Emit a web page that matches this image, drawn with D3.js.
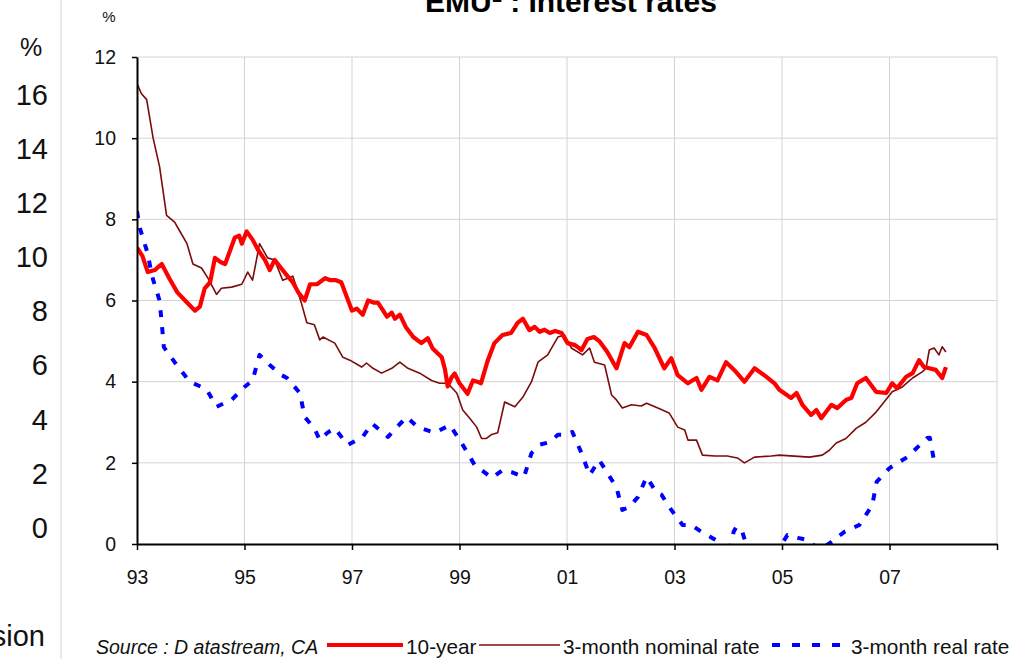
<!DOCTYPE html>
<html>
<head>
  <meta charset="utf-8">
  <style>
    body { margin: 0; background: #ffffff; }
    svg { display: block; font-family: "Liberation Sans", Arial, sans-serif; }
  </style>
</head>
<body>

  <div id="chart_rates"></div>

  <script src="https://d3js.org/d3.v7.min.js"></script>

  <script>
    // [decimal year, %]
    var tenYear = [
      [1993.0, 7.3], [1993.1, 7.1], [1993.2, 6.7], [1993.33, 6.75], [1993.46, 6.9], [1993.6, 6.55],
      [1993.75, 6.2], [1993.93, 5.95], [1994.08, 5.75], [1994.17, 5.85], [1994.26, 6.3], [1994.36, 6.45],
      [1994.45, 7.05], [1994.55, 6.95], [1994.64, 6.9], [1994.82, 7.55], [1994.9, 7.6], [1994.95, 7.4],
      [1995.04, 7.7], [1995.15, 7.5], [1995.25, 7.25], [1995.38, 7.0], [1995.47, 6.75], [1995.56, 7.0],
      [1995.68, 6.8], [1995.8, 6.6], [1995.9, 6.45], [1996.0, 6.2], [1996.12, 6.0], [1996.22, 6.4],
      [1996.35, 6.4], [1996.5, 6.55], [1996.6, 6.5], [1996.7, 6.5], [1996.8, 6.45], [1996.9, 6.1],
      [1997.0, 5.75], [1997.09, 5.8], [1997.2, 5.65], [1997.3, 6.0], [1997.4, 5.95], [1997.48, 5.95],
      [1997.58, 5.75], [1997.65, 5.6], [1997.74, 5.7], [1997.8, 5.55], [1997.89, 5.65], [1998.0, 5.35],
      [1998.14, 5.1], [1998.29, 4.95], [1998.41, 5.07], [1998.5, 4.82], [1998.67, 4.6], [1998.73, 4.3],
      [1998.78, 3.88], [1998.85, 4.1], [1998.91, 4.2], [1999.0, 3.96], [1999.15, 3.7], [1999.25, 4.03],
      [1999.33, 4.0], [1999.4, 3.96], [1999.52, 4.5], [1999.65, 4.95], [1999.8, 5.15], [1999.96, 5.2],
      [2000.08, 5.45], [2000.18, 5.55], [2000.3, 5.27], [2000.4, 5.35], [2000.49, 5.23], [2000.58, 5.28],
      [2000.68, 5.2], [2000.78, 5.25], [2000.9, 5.2], [2001.01, 4.95], [2001.15, 4.9], [2001.27, 4.78],
      [2001.38, 5.05], [2001.5, 5.1], [2001.6, 5.0], [2001.75, 4.73], [2001.92, 4.33], [2002.07, 4.95],
      [2002.16, 4.85], [2002.32, 5.23], [2002.48, 5.15], [2002.63, 4.83], [2002.81, 4.33], [2002.94, 4.58],
      [2003.06, 4.16], [2003.25, 3.96], [2003.41, 4.09], [2003.5, 3.8], [2003.65, 4.12], [2003.8, 4.03],
      [2003.96, 4.48], [2004.11, 4.29], [2004.3, 4.0], [2004.49, 4.33], [2004.67, 4.16], [2004.86, 3.96],
      [2004.95, 3.8], [2005.17, 3.6], [2005.27, 3.72], [2005.38, 3.43], [2005.54, 3.18], [2005.64, 3.3],
      [2005.73, 3.1], [2005.92, 3.43], [2006.03, 3.35], [2006.19, 3.55], [2006.29, 3.6], [2006.4, 3.96],
      [2006.56, 4.09], [2006.75, 3.75], [2006.94, 3.72], [2007.05, 3.96], [2007.14, 3.84], [2007.31, 4.12],
      [2007.43, 4.21], [2007.55, 4.53], [2007.64, 4.36], [2007.74, 4.33], [2007.86, 4.29], [2007.98, 4.09],
      [2008.05, 4.36]
    ];

    var nominal3m = [
      [1993.0, 11.35], [1993.08, 11.1], [1993.18, 10.95], [1993.3, 10.0], [1993.42, 9.3], [1993.55, 8.1],
      [1993.7, 7.93], [1993.8, 7.7], [1993.93, 7.4], [1994.04, 6.9], [1994.2, 6.8], [1994.32, 6.55],
      [1994.48, 6.15], [1994.57, 6.3], [1994.76, 6.33], [1994.95, 6.4], [1995.06, 6.7], [1995.15, 6.5],
      [1995.28, 7.4], [1995.43, 7.05], [1995.56, 7.0], [1995.71, 6.5], [1995.9, 6.6], [1996.06, 5.93],
      [1996.16, 5.45], [1996.3, 5.4], [1996.4, 5.03], [1996.46, 5.1], [1996.68, 4.95], [1996.83, 4.6],
      [1996.96, 4.53], [1997.18, 4.36], [1997.27, 4.46], [1997.39, 4.33], [1997.55, 4.21], [1997.74, 4.33],
      [1997.89, 4.48], [1998.04, 4.33], [1998.26, 4.21], [1998.48, 4.03], [1998.63, 3.96], [1998.78, 3.96],
      [1998.95, 3.72], [1999.06, 3.3], [1999.19, 3.1], [1999.32, 2.88], [1999.41, 2.6], [1999.5, 2.6],
      [1999.6, 2.7], [1999.71, 2.74], [1999.84, 3.5], [2000.03, 3.38], [2000.18, 3.62], [2000.34, 4.0],
      [2000.46, 4.48], [2000.64, 4.66], [2000.83, 5.1], [2000.95, 5.15], [2001.08, 4.83], [2001.29, 4.66],
      [2001.42, 4.83], [2001.51, 4.48], [2001.7, 4.41], [2001.83, 3.67], [2001.92, 3.55], [2002.03, 3.35],
      [2002.2, 3.43], [2002.38, 3.4], [2002.48, 3.47], [2002.69, 3.35], [2002.9, 3.23], [2003.06, 2.88],
      [2003.19, 2.81], [2003.25, 2.56], [2003.41, 2.56], [2003.52, 2.19], [2003.75, 2.17], [2003.98, 2.17],
      [2004.17, 2.12], [2004.3, 2.0], [2004.49, 2.14], [2004.8, 2.17], [2004.95, 2.19], [2005.51, 2.14],
      [2005.75, 2.19], [2005.88, 2.31], [2006.01, 2.49], [2006.19, 2.6], [2006.38, 2.85], [2006.56, 3.0],
      [2006.75, 3.25], [2006.9, 3.5], [2007.05, 3.75], [2007.24, 3.87], [2007.43, 4.09], [2007.61, 4.24],
      [2007.68, 4.33], [2007.74, 4.78], [2007.83, 4.83], [2007.92, 4.66], [2007.98, 4.86], [2008.05, 4.73]
    ];

    var real3m = [
      [1993.0, 8.2], [1993.05, 7.8], [1993.2, 7.15], [1993.28, 6.6], [1993.42, 6.0], [1993.46, 5.45],
      [1993.5, 4.85], [1993.7, 4.48], [1993.98, 4.0], [1994.15, 3.9], [1994.3, 3.8], [1994.48, 3.38],
      [1994.67, 3.5], [1994.76, 3.55], [1995.0, 3.87], [1995.15, 4.03], [1995.28, 4.66], [1995.47, 4.41],
      [1995.69, 4.16], [1995.79, 4.09], [1996.03, 3.72], [1996.12, 3.13], [1996.3, 2.85], [1996.4, 2.56],
      [1996.55, 2.75], [1996.68, 2.85], [1996.92, 2.44], [1997.2, 2.64], [1997.37, 2.97], [1997.67, 2.64],
      [1997.85, 2.9], [1998.02, 3.13], [1998.22, 2.88], [1998.54, 2.74], [1998.82, 2.93], [1999.04, 2.49],
      [1999.28, 1.95], [1999.6, 1.63], [1999.8, 1.82], [1999.97, 1.77], [2000.2, 1.65], [2000.34, 2.24],
      [2000.5, 2.45], [2000.68, 2.51], [2000.83, 2.69], [2000.95, 2.69], [2001.1, 2.76], [2001.27, 2.24],
      [2001.42, 1.7], [2001.6, 2.07], [2001.75, 1.75], [2001.92, 1.4], [2002.03, 0.84], [2002.16, 0.91],
      [2002.32, 1.16], [2002.48, 1.65], [2002.67, 1.26], [2002.76, 1.21], [2002.94, 0.84], [2003.15, 0.47],
      [2003.31, 0.47], [2003.5, 0.3], [2003.7, 0.15], [2003.87, 0.02], [2004.0, -0.3], [2004.1, 0.3],
      [2004.15, 0.42], [2004.25, 0.35], [2004.4, -0.3], [2004.7, -0.4], [2004.95, -0.1], [2005.1, 0.22],
      [2005.3, 0.15], [2005.47, 0.1], [2005.7, -0.15], [2005.92, 0.05], [2006.16, 0.3], [2006.44, 0.47],
      [2006.68, 0.96], [2006.76, 1.53], [2007.0, 1.87], [2007.33, 2.14], [2007.7, 2.61], [2007.75, 2.62],
      [2007.83, 2.04]
    ];

    var yearTicks = [1993, 1995, 1997, 1999, 2001, 2003, 2005, 2007, 2009];
    var yearLabels = ['93', '95', '97', '99', '01', '03', '05', '07', ''];
    var rateTicks = [0, 2, 4, 6, 8, 10, 12];
    // tick labels of the neighbouring (cut off) chart on the left
    var leftTicks = [0, 2, 4, 6, 8, 10, 12, 14, 16];

    var width = 1013,
        height = 659,
        plot = {'left': 137, 'right': 997, 'top': 57, 'bottom': 544};

    var svg = d3.select('#chart_rates')
        .append('svg')
        .attr('width', width)
        .attr('height', height);

    svg.append('rect')
        .attr('width', width)
        .attr('height', height)
        .attr('fill', '#ffffff');

    // --- remnant of the neighbouring chart ---
    svg.append('line')
        .attr('x1', 61).attr('x2', 61)
        .attr('y1', 0).attr('y2', height)
        .attr('stroke', '#d4d4d4')
        .attr('stroke-width', 1);

    var yLeft = d3.scaleLinear()
        .domain([0, 16])
        .range([528, 95]);

    var leftAxis = svg.append('g')
        .attr('transform', 'translate(48, 0)')
        .call(d3.axisLeft(yLeft).tickValues(leftTicks).tickSize(0).tickPadding(0));
    leftAxis.select('.domain').remove();
    leftAxis.selectAll('text')
        .attr('font-family', '"Liberation Sans", Arial, sans-serif')
        .attr('font-size', 29)
        .attr('fill', '#111');

    svg.append('text')
        .attr('x', 31).attr('y', 56)
        .attr('text-anchor', 'middle')
        .attr('font-size', 25)
        .attr('fill', '#111')
        .text('%');

    svg.append('text')
        .attr('x', 45).attr('y', 646)
        .attr('text-anchor', 'end')
        .attr('font-size', 29)
        .attr('fill', '#111')
        .text('Commission');

    // --- main chart ---
    var x = d3.scaleLinear()
        .domain([1993, 2009])
        .range([plot.left, plot.right]);

    var y = d3.scaleLinear()
        .domain([0, 12])
        .range([plot.bottom, plot.top]);

    var grid = svg.append('g')
        .attr('stroke', '#d3d3d3')
        .attr('stroke-width', 1);

    grid.selectAll('line.h')
        .data(rateTicks.slice(1))
        .enter().append('line')
        .attr('class', 'h')
        .attr('x1', plot.left).attr('x2', plot.right)
        .attr('y1', d => y(d)).attr('y2', d => y(d));

    grid.selectAll('line.v')
        .data(yearTicks.slice(1))
        .enter().append('line')
        .attr('class', 'v')
        .attr('x1', d => x(d)).attr('x2', d => x(d))
        .attr('y1', plot.top).attr('y2', plot.bottom);

    svg.append('clipPath')
        .attr('id', 'plot_clip')
        .append('rect')
        .attr('x', plot.left)
        .attr('y', plot.top)
        .attr('width', plot.right - plot.left)
        .attr('height', plot.bottom - plot.top);

    var line = d3.line()
        .x(d => x(d[0]))
        .y(d => y(d[1]));

    var lines = svg.append('g')
        .attr('clip-path', 'url(#plot_clip)')
        .attr('fill', 'none')
        .attr('stroke-linejoin', 'round');

    lines.append('path')
        .datum(nominal3m)
        .attr('d', line)
        .attr('stroke', '#7a0c0c')
        .attr('stroke-width', 1.6);

    lines.append('path')
        .datum(tenYear)
        .attr('d', line)
        .attr('stroke', '#ff0000')
        .attr('stroke-width', 4.2);

    lines.append('path')
        .datum(real3m)
        .attr('d', line)
        .attr('stroke', '#0000ff')
        .attr('stroke-width', 4)
        .attr('stroke-dasharray', '7,10');

    // axes
    var xAxis = svg.append('g')
        .attr('transform', 'translate(0,' + plot.bottom + ')')
        .call(d3.axisBottom(x)
          .tickValues(yearTicks)
          .tickFormat((d, i) => yearLabels[i])
          .tickSize(6)
          .tickSizeOuter(0)
          .tickPadding(20));

    var yAxis = svg.append('g')
        .attr('transform', 'translate(' + plot.left + ',0)')
        .call(d3.axisLeft(y)
          .tickValues(rateTicks)
          .tickSize(5)
          .tickSizeOuter(0)
          .tickPadding(16));

    [xAxis, yAxis].forEach(function (ax) {
      ax.select('.domain').attr('stroke', '#000').attr('stroke-width', 2);
      ax.selectAll('.tick line').attr('stroke', '#000').attr('stroke-width', 1.5);
      ax.selectAll('text')
          .attr('font-family', '"Liberation Sans", Arial, sans-serif')
          .attr('font-size', 19.5)
          .attr('fill', '#111');
    });

    svg.append('text')
        .attr('x', 109).attr('y', 22)
        .attr('text-anchor', 'middle')
        .attr('font-size', 15)
        .attr('fill', '#111')
        .text('%');

    // title, cut off at the top edge
    var title = svg.append('text')
        .attr('x', 571).attr('y', 12)
        .attr('text-anchor', 'middle')
        .attr('font-size', 30)
        .attr('font-weight', 'bold')
        .attr('fill', '#000');
    title.append('tspan').text('EMU');
    title.append('tspan').attr('font-size', 18).attr('dy', -10).text('1');
    title.append('tspan').attr('dy', 10).text(' : Interest rates');

    // legend
    var legendY = 645;
    svg.append('text')
        .attr('x', 96).attr('y', 654)
        .attr('font-size', 19.5)
        .attr('font-style', 'italic')
        .attr('fill', '#111')
        .text('Source : D atastream, CA');

    var legendItems = [
      {'label': '10-year', 'x0': 327, 'x1': 403, 'color': '#ff0000', 'w': 4, 'dash': null},
      {'label': '3-month nominal rate', 'x0': 479, 'x1': 560, 'color': '#7a0c0c', 'w': 1.6, 'dash': null},
      {'label': '3-month real rate', 'x0': 772, 'x1': 848, 'color': '#0000ff', 'w': 4, 'dash': '8,12'}
    ];

    var legend = svg.append('g')
        .selectAll('g')
        .data(legendItems)
        .enter().append('g');

    legend.append('line')
        .attr('x1', d => d.x0).attr('x2', d => d.x1)
        .attr('y1', legendY).attr('y2', legendY)
        .attr('stroke', d => d.color)
        .attr('stroke-width', d => d.w)
        .attr('stroke-dasharray', d => d.dash);

    legend.append('text')
        .attr('x', d => d.x1 + 3)
        .attr('y', 654)
        .attr('font-size', 20.8)
        .attr('fill', '#111')
        .text(d => d.label);
  </script>
</body>
</html>
